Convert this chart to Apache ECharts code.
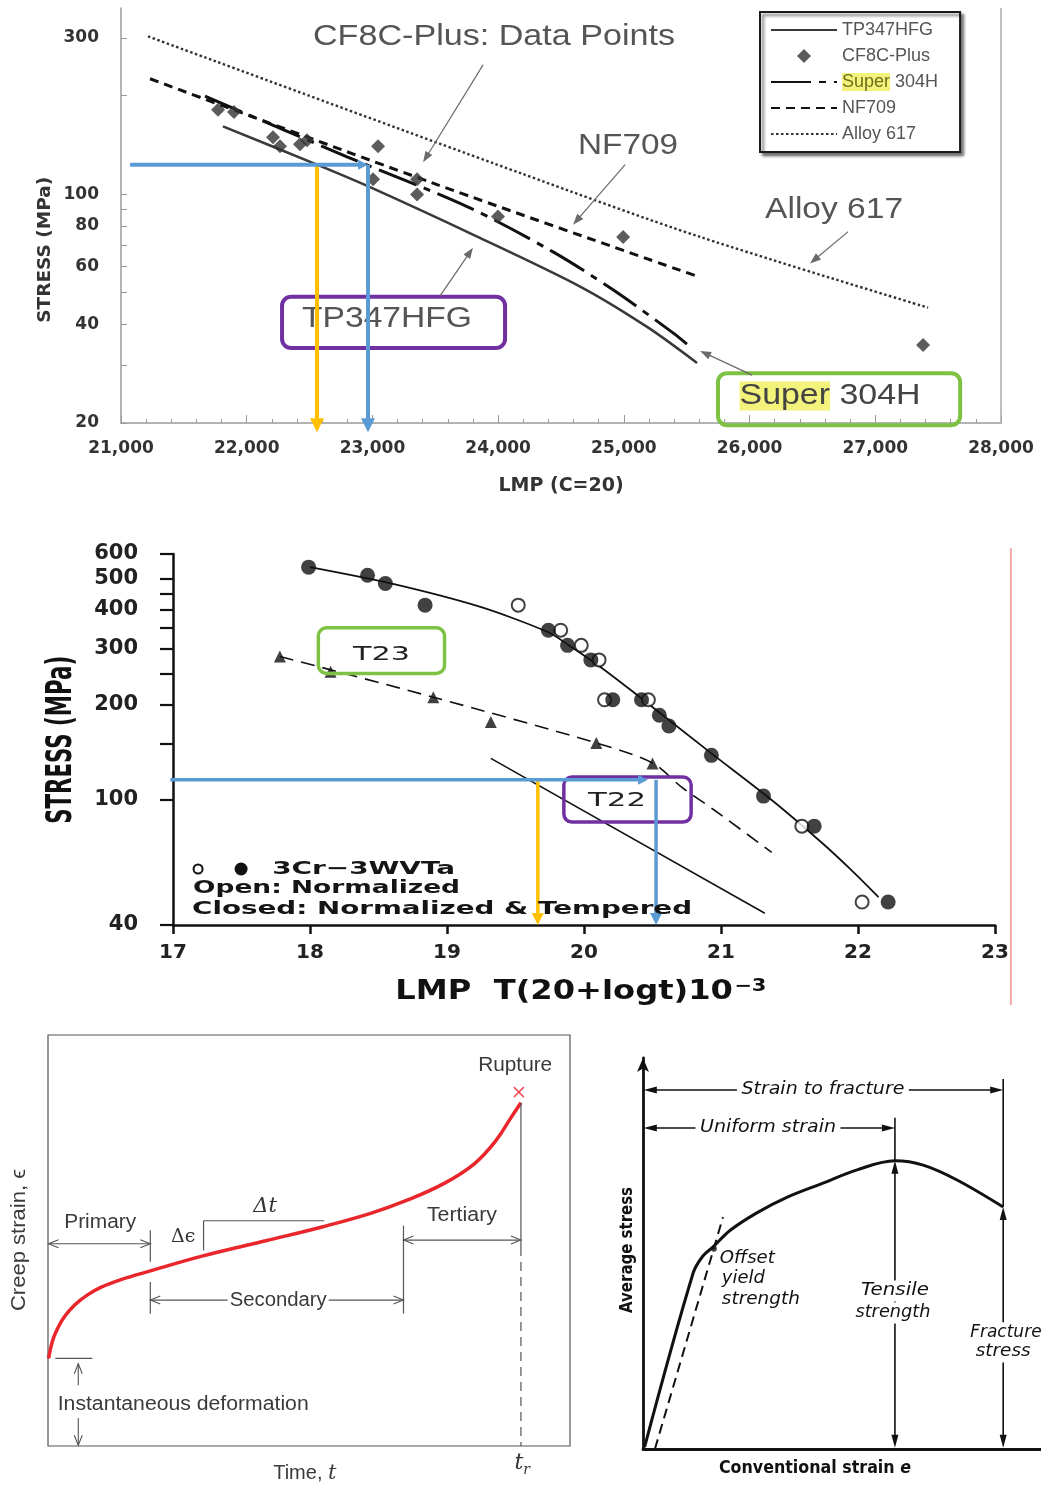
<!DOCTYPE html>
<html>
<head>
<meta charset="utf-8">
<title>Creep rupture and tensile behaviour</title>
<script src="https://cdn.jsdelivr.net/npm/echarts@6.0.0/dist/echarts.min.js"></script>
<style>
html, body { margin: 0; padding: 0; background: #fff; }
#chart { width: 1041px; height: 1485px; }
</style>
</head>
<body>
<div id="chart"></div>
<script>
// ---------- Panel 1: Larson-Miller plot, C = 20 ----------
const lmpRange1 = [21000, 28000];
const stressRange1 = [20, 370];
const stressTicks1 = [20, 30, 40, 50, 60, 70, 80, 90, 100, 200, 300];
const stressLabels1 = [20, 40, 60, 80, 100, 300];
const tp347hfg = [[21811, 161], [22559, 123], [22981, 105], [23816, 74.7], [24652, 52.2], [25185, 39.3], [25582, 30.5]];
const super304h = [[21668, 199], [22798, 130], [23753, 91.6], [24437, 66.6], [24914, 51], [25391, 37.7], [25527, 34.2]];
const nf709 = [[21231, 225], [23482, 108], [25590, 56]];
const alloy617 = [[21215, 303], [24174, 116], [25606, 74], [27420, 45]];
const cf8cPlus = [[21772, 181], [21899, 178], [22209, 149], [22265, 140], [22424, 142], [22480, 146],
  [23005, 111], [23045, 140], [23355, 111], [23355, 99.7], [23999, 85.4], [24994, 74], [27380, 34.6]];

// ---------- Panel 2: 3Cr-3WVTa, T23, T22 ----------
const lmpRange2 = [17, 23];
const stressRange2 = [40, 600];
const stressTicks2 = [40, 100, 150, 200, 250, 300, 350, 400, 450, 500, 600];
const stressLabels2 = [40, 100, 200, 300, 400, 500, 600];
const temperedPts = [[17.99, 545], [18.42, 514], [18.55, 484], [18.84, 413], [19.74, 344], [19.88, 308],
  [20.05, 277], [20.21, 207], [20.42, 207], [20.55, 185], [20.62, 171], [20.93, 138], [21.31, 102.5],
  [21.68, 82.3], [22.22, 47.3]];
const normalizedPts = [[19.52, 413], [19.83, 344], [19.98, 308], [20.11, 277], [20.15, 207], [20.47, 207],
  [21.59, 82.3], [22.03, 47.3]];
const wvtaCurve = [[18.0, 545], [18.59, 484], [19.25, 407], [19.74, 339], [19.90, 306], [20.12, 263],
  [20.36, 219], [20.93, 140], [21.37, 99.6], [21.73, 73.3], [21.95, 59.8], [22.15, 49]];
const t23Pts = [[17.78, 284], [18.15, 254], [18.90, 211], [19.32, 176], [20.09, 151], [20.50, 130]];
const t23Line = [[17.78, 284], [18.90, 211], [20.09, 151], [20.50, 130.5], [20.71, 109.6], [20.95, 92.6], [21.37, 68]];
const t22Line = [[19.32, 135], [21.32, 43.6]];

// ---------- Panel 3: creep curve (time vs strain, arbitrary units) ----------
const creepCurve = [[0.1, 21.3], [0.8, 25.3], [1.6, 28.0], [3.0, 31.2], [5.1, 34.3], [7.5, 36.7], [10.1, 38.6],
  [14.0, 40.5], [19.6, 42.6], [29.5, 46.2], [41.9, 50.0], [52.5, 53.3], [61.8, 56.6], [68.8, 59.8],
  [75.9, 63.9], [81.6, 68.6], [85.8, 74.3], [88.7, 79.9], [90.6, 83.5]];

// ---------- Panel 4: engineering stress-strain curve (arbitrary units) ----------
const ssCurve = [[0.4, 0.5], [12.6, 45.0], [15.0, 49.3], [17.6, 51.7], [22.0, 56.0], [28.6, 60.4], [36.0, 64.3],
  [45.2, 68.0], [53.8, 71.4], [63.3, 73.7], [70.4, 72.6], [78.9, 68.8], [90.5, 61.9]];
const offsetLine = [[3.0, 0], [20.1, 59.3]];
const yieldPt = [[17.8, 51.2]];

const SANS = "'Liberation Sans', Arial, sans-serif";
const NARROW = "'Liberation Sans Narrow', 'Liberation Sans', sans-serif";
const DJ = "'DejaVu Sans', sans-serif";
const SERIF = "'DejaVu Serif', 'Liberation Serif', serif";
const BLUE = '#5b9bd5', GOLD = '#ffc000', PURPLE = '#7030a0', GREEN = '#7dc242';

const chart = echarts.init(document.getElementById('chart'), null, { renderer: 'canvas', width: 1041, height: 1485 });

const hidden = { show: false };
const noMarker = { opacity: 0 };
// legend diamond kept square inside the wide legend slot
const diamondIcon = 'path://M0 0M66 14M26 7L33 0L40 7L33 14Z';
const option = {
  animation: false,
  backgroundColor: '#fff',
  grid: [
    { left: 121, top: 8, width: 880, height: 415, outerBoundsMode: 'none' },
    { left: 173, top: 554, width: 822, height: 371, outerBoundsMode: 'none' },
    { left: 48, top: 1035, width: 522, height: 411, outerBoundsMode: 'none', show: true, borderColor: '#555', borderWidth: 1.2, backgroundColor: 'rgba(0,0,0,0)' },
    { left: 643, top: 1058, width: 398, height: 391, outerBoundsMode: 'none' }
  ],
  legend: {
    data: [
      { name: 'TP347HFG', itemStyle: noMarker },
      { name: 'CF8C-Plus', icon: diamondIcon },
      { name: 'Super 304H', itemStyle: noMarker },
      { name: 'NF709', itemStyle: noMarker },
      { name: 'Alloy 617', itemStyle: noMarker }
    ],
    orient: 'vertical', left: 760, top: 12,
    itemWidth: 66, itemHeight: 14, itemGap: 8,
    padding: [9, 22, 9, 10],
    backgroundColor: '#fff', borderColor: '#1a1a1a', borderWidth: 2,
    shadowColor: 'rgba(0,0,0,0.55)', shadowBlur: 3, shadowOffsetX: 3, shadowOffsetY: 3,
    selectedMode: false,
    formatter: n => n === 'Super 304H' ? '{hl|Super} 304H' : n,
    textStyle: {
      fontFamily: SANS, fontSize: 18, color: '#555',
      rich: { hl: { fontFamily: SANS, fontSize: 18, color: '#6f6f1c', backgroundColor: '#f3f37c' } }
    }
  },
  xAxis: [
    {
      gridIndex: 0, type: 'value', min: lmpRange1[0], max: lmpRange1[1], interval: 1000,
      name: 'LMP (C=20)', nameLocation: 'middle', nameGap: 54,
      nameTextStyle: { fontFamily: DJ, fontWeight: 'bold', fontSize: 19, color: '#333' },
      axisLine: { lineStyle: { color: '#9a9a9a', width: 1.5 } },
      axisTick: { inside: true, length: 8, lineStyle: { color: '#9a9a9a' } },
      minorTick: { show: true, splitNumber: 5, length: 4, lineStyle: { color: '#9a9a9a' } },
      axisLabel: { margin: 17, fontFamily: DJ, fontWeight: 'bold', fontSize: 17, color: '#333',
        formatter: v => v.toLocaleString('en-US') },
      splitLine: hidden
    },
    {
      gridIndex: 1, type: 'value', min: lmpRange2[0], max: lmpRange2[1], interval: 1,
      axisLine: { lineStyle: { color: '#111', width: 2.5 } },
      axisTick: { inside: false, length: 9, lineStyle: { color: '#111', width: 2.5 } },
      axisLabel: { margin: 18, fontFamily: DJ, fontWeight: 'bold', fontSize: 20, color: '#222' },
      splitLine: hidden
    },
    { gridIndex: 2, type: 'value', min: 0, max: 100, show: false },
    {
      gridIndex: 3, type: 'value', min: 0, max: 100,
      axisLine: { lineStyle: { color: '#111', width: 2.8 } },
      axisTick: hidden, axisLabel: hidden, splitLine: hidden
    }
  ],
  yAxis: [
    {
      gridIndex: 0, type: 'log', logBase: 10, min: stressRange1[0], max: stressRange1[1],
      axisLine: { show: true, lineStyle: { color: '#9a9a9a', width: 1.5 } },
      axisTick: { show: true, inside: true, length: 6, customValues: stressTicks1, lineStyle: { color: '#9a9a9a' } },
      axisLabel: { margin: 22, customValues: stressLabels1, fontFamily: DJ, fontWeight: 'bold', fontSize: 17, color: '#333',
        formatter: v => String(Math.round(v)) },
      splitLine: hidden
    },
    {
      gridIndex: 1, type: 'log', logBase: 10, min: stressRange2[0], max: stressRange2[1],
      axisLine: { show: true, lineStyle: { color: '#111', width: 2.5 } },
      axisTick: { show: true, inside: false, length: 13, customValues: stressTicks2, lineStyle: { color: '#111', width: 2.2 } },
      axisLabel: { margin: 35, customValues: stressLabels2, fontFamily: DJ, fontWeight: 'bold', fontSize: 21, color: '#222',
        formatter: v => String(Math.round(v)) },
      splitLine: hidden
    },
    { gridIndex: 2, type: 'value', min: 0, max: 100, show: false },
    {
      gridIndex: 3, type: 'value', min: 0, max: 100,
      axisLine: { show: true, symbol: ['none', 'arrow'], symbolSize: [9, 14], lineStyle: { color: '#111', width: 2.8 } },
      axisTick: hidden, axisLabel: hidden, splitLine: hidden
    }
  ],
  series: [
    // panel 1
    { name: 'TP347HFG', type: 'line', xAxisIndex: 0, yAxisIndex: 0, data: tp347hfg, symbol: 'none', smooth: 0.3,
      lineStyle: { color: '#3a3a3a', width: 2.6 }, itemStyle: { color: '#3a3a3a' }, z: 3 },
    { name: 'CF8C-Plus', type: 'scatter', xAxisIndex: 0, yAxisIndex: 0, data: cf8cPlus, symbol: 'diamond', symbolSize: 14,
      itemStyle: { color: '#333' }, z: 5 },
    { name: 'Super 304H', type: 'line', xAxisIndex: 0, yAxisIndex: 0, data: super304h, symbol: 'none', smooth: 0.3,
      lineStyle: { color: '#111', width: 3, type: [40, 8, 7, 8] }, itemStyle: { color: '#111' }, z: 4 },
    { name: 'NF709', type: 'line', xAxisIndex: 0, yAxisIndex: 0, data: nf709, symbol: 'none', smooth: 0.3,
      lineStyle: { color: '#111', width: 3, type: [9, 6] }, itemStyle: { color: '#111' }, z: 4 },
    { name: 'Alloy 617', type: 'line', xAxisIndex: 0, yAxisIndex: 0, data: alloy617, symbol: 'none', smooth: 0.3,
      lineStyle: { color: '#333', width: 2.4, type: [2.5, 2.5] }, itemStyle: { color: '#333' }, z: 4 },
    // panel 2
    { name: '3Cr-3WVTa fit', type: 'line', xAxisIndex: 1, yAxisIndex: 1, data: wvtaCurve, symbol: 'none', smooth: 0.25,
      lineStyle: { color: '#111', width: 1.8 }, z: 3 },
    { name: 'T23 fit', type: 'line', xAxisIndex: 1, yAxisIndex: 1, data: t23Line, symbol: 'none', smooth: 0.3,
      lineStyle: { color: '#111', width: 1.6, type: [14, 8] }, z: 3 },
    { name: 'T22', type: 'line', xAxisIndex: 1, yAxisIndex: 1, data: t22Line, symbol: 'none',
      lineStyle: { color: '#111', width: 1.6 }, z: 3 },
    { name: 'T23', type: 'scatter', xAxisIndex: 1, yAxisIndex: 1, data: t23Pts, symbol: 'triangle', symbolSize: 12,
      itemStyle: { color: '#111' }, z: 5 },
    { name: 'Normalized', type: 'scatter', xAxisIndex: 1, yAxisIndex: 1, data: normalizedPts, symbol: 'circle', symbolSize: 13,
      itemStyle: { color: '#fff', borderColor: '#111', borderWidth: 2 }, z: 5 },
    { name: 'Normalized & Tempered', type: 'scatter', xAxisIndex: 1, yAxisIndex: 1, data: temperedPts, symbol: 'circle', symbolSize: 15,
      itemStyle: { color: '#111' }, z: 6 },
    // panel 3
    { name: 'Creep strain', type: 'line', xAxisIndex: 2, yAxisIndex: 2, data: creepCurve, symbol: 'none', smooth: 0.4,
      lineStyle: { color: '#e8262b', width: 3.5 }, z: 4 },
    // panel 4
    { name: 'Average stress', type: 'line', xAxisIndex: 3, yAxisIndex: 3, data: ssCurve, symbol: 'none', smooth: 0.35,
      lineStyle: { color: '#111', width: 3 }, z: 4 },
    { name: 'Offset line', type: 'line', xAxisIndex: 3, yAxisIndex: 3, data: offsetLine, symbol: 'none',
      lineStyle: { color: '#111', width: 2, type: [10, 6] }, z: 3 },
    { name: 'Offset yield', type: 'scatter', xAxisIndex: 3, yAxisIndex: 3, data: yieldPt, symbol: 'circle', symbolSize: 6,
      itemStyle: { color: '#111' }, z: 5 }
  ]
};
chart.setOption(option);

// ---------- annotation layer, placed from data coordinates ----------
const G = [];
const mctx = document.createElement('canvas').getContext('2d');
const at = (g, x, y) => chart.convertToPixel({ gridIndex: g }, [x, y]);

function seg(p, q, color, w, dash, z) {
  G.push({ type: 'line', z: z || 50, shape: { x1: p[0], y1: p[1], x2: q[0], y2: q[1] },
    style: { stroke: color, lineWidth: w, lineDash: dash || null } });
}
function line(g, a, b, color, w, dash, z) { seg(at(g, a[0], a[1]), at(g, b[0], b[1]), color, w, dash, z); }
function head(p, q, o) {
  const dx = q[0] - p[0], dy = q[1] - p[1], L = Math.hypot(dx, dy) || 1, ux = dx / L, uy = dy / L;
  const bx = q[0] - ux * o.len, by = q[1] - uy * o.len, nx = -uy * o.wid / 2, ny = ux * o.wid / 2;
  const pts = [[bx + nx, by + ny], [q[0], q[1]], [bx - nx, by - ny]];
  if (o.open) G.push({ type: 'polyline', z: (o.z || 50) + 1, shape: { points: pts }, style: { stroke: o.color, lineWidth: o.hw || o.width, fill: null } });
  else G.push({ type: 'polygon', z: (o.z || 50) + 1, shape: { points: pts }, style: { fill: o.color } });
}
function arrow(g, a, b, o) {
  const p = at(g, a[0], a[1]), q = at(g, b[0], b[1]);
  const trim = o.open ? 0 : o.len * 0.7;
  const dx = q[0] - p[0], dy = q[1] - p[1], L = Math.hypot(dx, dy) || 1, ux = dx / L, uy = dy / L;
  const p2 = o.both ? [p[0] + ux * trim, p[1] + uy * trim] : p;
  const q2 = [q[0] - ux * trim, q[1] - uy * trim];
  seg(p2, q2, o.color, o.width, o.dash, o.z);
  head(p, q, o);
  if (o.both) head(q, p, o);
}
function box(g, a, b, color, lw, r) {
  const p = at(g, a[0], a[1]), q = at(g, b[0], b[1]);
  G.push({ type: 'rect', z: 45, shape: { x: Math.min(p[0], q[0]), y: Math.min(p[1], q[1]),
    width: Math.abs(q[0] - p[0]), height: Math.abs(q[1] - p[1]), r: r },
    style: { fill: 'rgba(0,0,0,0)', stroke: color, lineWidth: lw } });
}
function txt(g, x, y, str, o) {
  const p = at(g, x, y);
  const fs = o.size, ff = o.family || SANS, fw = o.weight || 'normal', fst = o.italic ? 'italic' : 'normal';
  let sx = 1;
  if (o.w) { mctx.font = `${fst} ${fw} ${fs}px ${ff}`; sx = o.w / mctx.measureText(o.measure || str).width; }
  const style = { text: str, fontSize: fs, fontFamily: ff, fontWeight: fw, fontStyle: fst, fill: o.color || '#333',
    align: o.align || 'center', verticalAlign: 'middle' };
  if (o.bg) { style.backgroundColor = o.bg; style.padding = o.pad || [0, 3]; }
  if (o.rich) style.rich = o.rich;
  G.push({ type: 'text', z: o.z || 70, x: p[0] + (o.dx || 0), y: p[1] + (o.dy || 0), rotation: o.rot || 0,
    scaleX: sx, scaleY: o.sy || 1, style: style });
}
function circle(g, x, y, r, fill, stroke, lw) {
  const p = at(g, x, y);
  G.push({ type: 'circle', z: 70, shape: { cx: p[0], cy: p[1], r: r }, style: { fill: fill, stroke: stroke || null, lineWidth: lw || 0 } });
}

// panel 1
line(0, [28000, 20], [28000, 370], '#aaa', 1.5, null, 10);
box(0, [22281, 48.6], [24055, 33.9], PURPLE, 4, 9);
box(0, [25749, 28.4], [27675, 19.7], GREEN, 4, 9);
txt(0, 20395, 67.6, 'STRESS (MPa)', { size: 18, family: DJ, weight: 'bold', color: '#333', rot: Math.PI / 2, w: 146 });
txt(0, 23967, 301, 'CF8C-Plus: Data Points', { size: 29, color: '#555', w: 362 });
txt(0, 25033, 140, 'NF709', { size: 29, color: '#555', w: 100 });
txt(0, 26672, 89.6, 'Alloy 617', { size: 29, color: '#555', w: 138 });
txt(0, 23116, 41.6, 'TP347HFG', { size: 29, color: '#555', w: 170, z: 48 });
txt(0, 26640, 24.2, '{hl|Super} 304H', { size: 29, color: '#444', w: 181, measure: 'Super 304H',
  rich: { hl: { fontSize: 29, fontFamily: SANS, color: '#6f6f1c', backgroundColor: '#f3f37c' } } });
const thin = { color: '#6a6a6a', width: 1.2, len: 11, wid: 8 };
arrow(0, [23880, 248], [23403, 125], thin);
arrow(0, [25010, 123], [24596, 80.6], thin);
arrow(0, [26784, 76.8], [26481, 61.4], thin);
arrow(0, [23538, 48.9], [23800, 68.6], thin);
arrow(0, [26020, 28], [25606, 33.2], thin);
arrow(0, [22559, 123], [22559, 18.75], { color: GOLD, width: 4, len: 14, wid: 14, z: 55 });
arrow(0, [21072, 123], [22965, 123], { color: BLUE, width: 4, len: 10, wid: 10, z: 56 });
arrow(0, [22965, 123], [22965, 18.75], { color: BLUE, width: 4, len: 14, wid: 14, z: 56 });

// panel 2
box(1, [18.061, 350], [18.982, 251], GREEN, 3.5, 8);
box(1, [19.853, 117.8], [20.782, 84.8], PURPLE, 3.5, 8);
txt(1, 18.522, 286, 'T23', { size: 19, family: DJ, color: '#222', w: 57 });
txt(1, 20.241, 98.8, 'T22', { size: 19, family: DJ, color: '#222', w: 58 });
circle(1, 17.183, 60.2, 4.5, '#fff', '#111', 2);
circle(1, 17.497, 60.2, 6.5, '#111');
const lg = { size: 18, family: DJ, weight: 'bold', color: '#151515', align: 'left' };
txt(1, 17.724, 60.2, '3Cr\u22123WVTa', Object.assign({ w: 183 }, lg));
txt(1, 17.146, 52.4, 'Open: Normalized', Object.assign({ w: 267 }, lg));
txt(1, 17.139, 45.0, 'Closed: Normalized & Tempered', Object.assign({ w: 500 }, lg));
txt(1, 16.188, 154.5, 'STRESS (MPa)', { size: 24, family: DJ, weight: 'bold', color: '#111', rot: Math.PI / 2, w: 168, sy: 1.5 });
txt(1, 19.977, 24.5, '{m|LMP  T(20+logt)10}{s|\u22123}', { size: 26, family: DJ, weight: 'bold', color: '#111', w: 387,
  measure: 'LMP  T(20+logt)10\u22123',
  rich: { m: { fontSize: 26, fontFamily: DJ, fontWeight: 'bold', color: '#111' },
          s: { fontSize: 17, fontFamily: DJ, fontWeight: 'bold', color: '#111', verticalAlign: 'top', padding: [0, 0, 12, 1] } } });
arrow(1, [20.526, 115.4], [20.526, 40], { color: BLUE, width: 3.5, len: 12, wid: 12, z: 56 });
arrow(1, [19.663, 115.4], [19.663, 40], { color: GOLD, width: 3.5, len: 12, wid: 12, z: 56 });
arrow(1, [16.98, 115.4], [20.467, 115.4], { color: BLUE, width: 3.5, len: 10, wid: 10, z: 57 });
line(1, [23.116, 626], [23.116, 22.3], '#f5a8a8', 2, null, 10);

// panel 3
const ga = { color: '#555', width: 1.1, len: 10, wid: 8, open: true };
arrow(2, [0.1, 49.2], [19.6, 49.2], Object.assign({ both: true }, ga));
line(2, [19.6, 52.5], [19.6, 44.8], '#555', 1.2);
line(2, [19.6, 39.9], [19.6, 32.2], '#555', 1.2);
arrow(2, [19.6, 35.5], [68.1, 35.5], Object.assign({ both: true }, ga));
line(2, [68.1, 53.6], [68.1, 32.2], '#555', 1.2);
arrow(2, [68.1, 50.1], [90.6, 50.1], Object.assign({ both: true }, ga));
line(2, [90.6, 83.5], [90.6, 48.4], '#555', 1.2);
line(2, [90.6, 48.4], [90.6, 0], '#555', 1.2, [9, 6]);
line(2, [1.4, 21.3], [8.5, 21.3], '#555', 1.2);
arrow(2, [5.8, 14.8], [5.8, 20.0], ga);
arrow(2, [5.8, 6.8], [5.8, 0.2], ga);
line(2, [29.8, 47.6], [29.8, 54.8], '#555', 1.2);
line(2, [29.8, 54.8], [52.9, 54.8], '#555', 1.2);
(function rupture() {
  const c = at(2, 90.2, 86.1);
  seg([c[0] - 5, c[1] - 5], [c[0] + 5, c[1] + 5], '#f0505a', 1.5, null, 60);
  seg([c[0] - 5, c[1] + 5], [c[0] + 5, c[1] - 5], '#f0505a', 1.5, null, 60);
})();
const ct = { size: 20, family: NARROW, color: '#3a3a3a' };
txt(2, 89.5, 92.5, 'Rupture', Object.assign({ w: 74 }, ct));
txt(2, 10.0, 54.5, 'Primary', Object.assign({ w: 72 }, ct));
txt(2, 79.3, 56.0, 'Tertiary', Object.assign({ w: 70 }, ct));
txt(2, 44.1, 35.5, 'Secondary', Object.assign({ w: 97, bg: '#fff', pad: [0, 2] }, ct));
txt(2, 25.9, 10.2, 'Instantaneous deformation', Object.assign({ w: 251 }, ct));
txt(2, 41.6, 58.2, '\u0394t', { size: 21, family: SERIF, color: '#333', italic: true });
txt(2, 25.9, 50.9, '\u0394\u03f5', { size: 19, family: SERIF, color: '#333' });
txt(2, -5.4, 50.1, 'Creep strain, \u03f5', Object.assign({ rot: Math.PI / 2, w: 142 }, ct));
txt(2, 49.2, -6.6, 'Time, {it|t}', Object.assign({}, ct, { rich: { it: { fontSize: 21, fontFamily: SERIF, fontStyle: 'italic', color: '#3a3a3a' } } }));
txt(2, 90.2, -4.3, 't', { size: 22, family: SERIF, italic: true, color: '#333' });
txt(2, 91.7, -6.0, 'r', { size: 14, family: SERIF, italic: true, color: '#333' });

// panel 4
const bk = { color: '#111', width: 1.6, len: 13, wid: 7 };
arrow(3, [0.2, 91.8], [90.5, 91.8], Object.assign({ both: true }, bk));
arrow(3, [0.2, 82.1], [63.3, 82.1], Object.assign({ both: true }, bk));
line(3, [63.3, 84.7], [63.3, 73.7], '#111', 1.6);
arrow(3, [63.3, 73.7], [63.3, 0.3], Object.assign({ both: true }, bk));
line(3, [90.5, 94.6], [90.5, 61.9], '#111', 1.6);
arrow(3, [90.5, 61.9], [90.5, 0.3], Object.assign({ both: true }, bk));
const it = { size: 17, family: DJ, italic: true, color: '#111' };
txt(3, 45.2, 91.8, 'Strain to fracture', Object.assign({ w: 163, bg: '#fff', pad: [0, 4] }, it));
txt(3, 31.4, 82.1, 'Uniform strain', Object.assign({ w: 136, bg: '#fff', pad: [0, 4] }, it));
txt(3, 19.3, 48.8, 'Offset', Object.assign({ align: 'left', w: 55 }, it));
txt(3, 19.8, 43.5, 'yield', Object.assign({ align: 'left', w: 43 }, it));
txt(3, 19.8, 38.1, 'strength', Object.assign({ align: 'left', w: 78 }, it));
txt(3, 63.3, 40.4, 'Tensile', Object.assign({ w: 68, bg: '#fff', pad: [2, 4] }, it));
txt(3, 62.8, 34.8, 'strength', Object.assign({ w: 75, bg: '#fff', pad: [2, 4] }, it));
txt(3, 81.7, 29.7, 'Fracture', Object.assign({ align: 'left', bg: '#fff', pad: [2, 2] }, it));
txt(3, 90.5, 24.8, 'stress', Object.assign({ w: 55, bg: '#fff', pad: [2, 4] }, it));
txt(3, -3.8, 50.9, 'Average stress', { size: 17, family: DJ, weight: 'bold', color: '#111', rot: Math.PI / 2, w: 126 });
txt(3, 43.2, -4.9, 'Conventional strain {e|e}', { size: 17, family: DJ, weight: 'bold', color: '#111', w: 192,
  measure: 'Conventional strain e',
  rich: { e: { fontSize: 17, fontFamily: DJ, fontWeight: 'bold', fontStyle: 'italic', color: '#111' } } });

chart.setOption({ graphic: { elements: G } });
</script>
</body>
</html>
